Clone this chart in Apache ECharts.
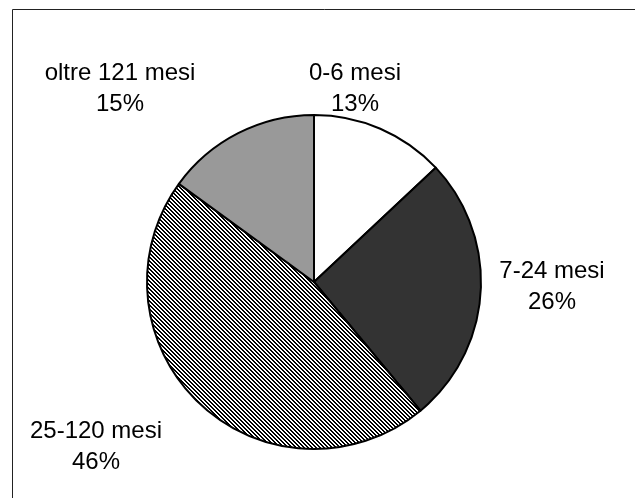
<!DOCTYPE html>
<html>
<head>
<meta charset="utf-8">
<script src="https://cdn.jsdelivr.net/npm/echarts@6/dist/echarts.min.js"></script>
<style>
  html, body { margin: 0; padding: 0; background: #fff; }
  #chart { width: 635px; height: 498px; }
</style>
</head>
<body>
<div id="chart"></div>
<script>
// Durata (in mesi) – quota percentuale per classe
const categories = ['0-6 mesi', '7-24 mesi', '25-120 mesi', 'oltre 121 mesi'];
const shares = [13, 26, 46, 15];

// Label anchor points (block centres) for each slice, in pixels
const labelPos = [
  [355, 89],
  [552, 287],
  [96, 447],
  [120, 89]
];

// Diagonal hatch tile for the 25-120 slice
function hatchTile() {
  const n = 4;
  const c = document.createElement('canvas');
  c.width = n; c.height = n;
  const g = c.getContext('2d');
  g.fillStyle = '#fff';
  g.fillRect(0, 0, n, n);
  g.fillStyle = '#000';
  for (let y = 0; y < n; y++) {
    g.fillRect(y % n, y, 1, 1);
    g.fillRect((y + 1) % n, y, 1, 1);
  }
  return c;
}

const fills = ['#ffffff', '#333333', { image: hatchTile(), repeat: 'repeat' }, '#999999'];

const chart = echarts.init(document.getElementById('chart'), null, { renderer: 'canvas' });

chart.setOption({
  animation: false,
  backgroundColor: '#fff',
  graphic: [{
    type: 'rect',
    shape: { x: 12.5, y: 9.5, width: 700, height: 600 },
    style: { fill: 'none', stroke: '#222', lineWidth: 1 },
    silent: true
  }],
  series: [{
    type: 'pie',
    center: [314, 282],
    radius: 167,
    startAngle: 90,
    clockwise: true,
    avoidLabelOverlap: false,
    data: categories.map((name, i) => ({
      name,
      value: shares[i],
      itemStyle: { color: fills[i] }
    })),
    itemStyle: { borderColor: '#000', borderWidth: 2 },
    label: {
      show: true,
      position: 'outside',
      formatter: '{b}\n{d}%',
      fontFamily: 'Liberation Sans, Arial, sans-serif',
      fontSize: 24,
      lineHeight: 31,
      color: '#000',
      align: 'center'
    },
    labelLine: { show: false },
    labelLayout: (params) => ({
      x: labelPos[params.dataIndex][0],
      y: labelPos[params.dataIndex][1],
      align: 'center',
      verticalAlign: 'middle'
    }),
    emphasis: { disabled: true }
  }]
});
</script>
</body>
</html>
